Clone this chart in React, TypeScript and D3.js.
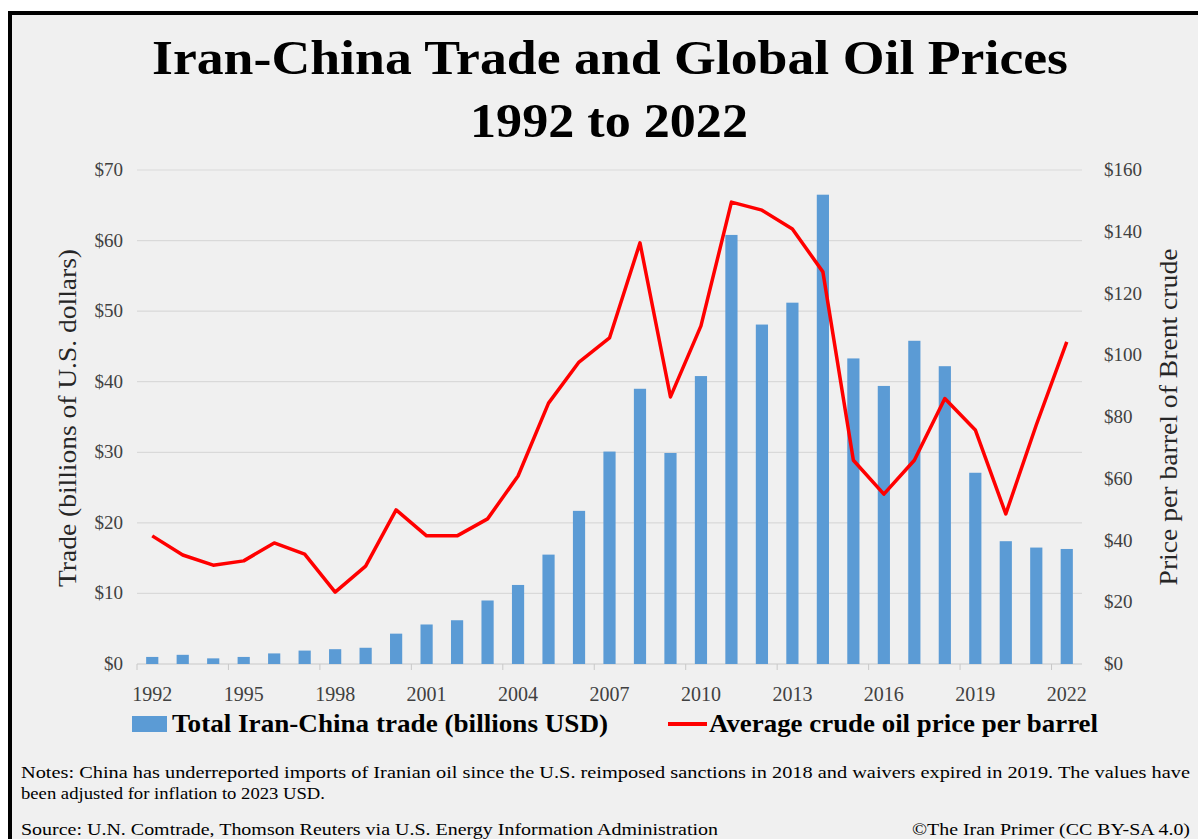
import React from "react";
import * as d3 from "d3";

// years on the category axis
const years = d3.range(1992, 2023).map(String);

// total Iran-China trade, billions USD (left axis)
const tradeValues = [
  1.0, 1.3, 0.8, 1.0, 1.5, 1.9, 2.1, 2.3, 4.3, 5.6, 6.2, 9.0, 11.2, 15.5, 21.7,
  30.1, 39.0, 29.9, 40.8, 60.8, 48.1, 51.2, 66.5, 43.3, 39.4, 45.8, 42.2, 27.1,
  17.4, 16.5, 16.3,
];

// average Brent crude price per barrel, USD (right axis)
const oilValues = [
  41.5, 35.3, 32.0, 33.4, 39.2, 35.6, 23.3, 31.7, 49.9, 41.5, 41.5, 47.0, 60.9,
  84.5, 97.8, 105.6, 136.4, 86.5, 109.5, 149.6, 147.0, 140.9, 127.0, 66.0, 55.0,
  66.0, 86.0, 75.8, 48.6, 77.4, 104.3,
];

const leftTicks = [0, 10, 20, 30, 40, 50, 60, 70];
const rightTicks = [0, 20, 40, 60, 80, 100, 120, 140, 160];
const labelYears = ["1992", "1995", "1998", "2001", "2004", "2007", "2010", "2013", "2016", "2019", "2022"];

const W = 1198;
const H = 839;
const serif = "'Liberation Serif', 'Times New Roman', serif";

export default function App() {
  const left = 137;
  const right = 1082;
  const top = 170;
  const bottom = 664;

  const x = d3.scaleBand<string>().domain(years).range([left, right]).paddingInner(0.6).paddingOuter(0.3);
  const yL = d3.scaleLinear().domain([0, 70]).range([bottom, top]);
  const yR = d3.scaleLinear().domain([0, 160]).range([bottom, top]);

  const line = d3
    .line<number>()
    .x((_, i) => (x(years[i]) ?? 0) + x.bandwidth() / 2)
    .y((d) => yR(d));

  const step = x.step();
  // category boundary ticks every 3 years
  const tickXs = d3.range(0, 31, 3).map((i) => left + i * step);

  return (
    <svg
      width={W}
      height={H}
      style={{ position: "absolute", left: 0, top: 0, display: "block" }}
      fontFamily={serif}
    >
      <rect x={0} y={0} width={W} height={H} fill="#ffffff" />
      <rect x={10} y={13} width={W} height={H} fill="#f0f0f0" />
      <line x1={10} y1={13} x2={W} y2={13} stroke="#000" strokeWidth={4} />
      <line x1={10} y1={11} x2={10} y2={H} stroke="#000" strokeWidth={4} />

      {/* title */}
      <text x={610} y={74} textAnchor="middle" fontSize={48} fontWeight="bold" textLength={916} lengthAdjust="spacingAndGlyphs">
        Iran-China Trade and Global Oil Prices
      </text>
      <text x={609} y={137} textAnchor="middle" fontSize={48} fontWeight="bold" textLength={278} lengthAdjust="spacingAndGlyphs">
        1992 to 2022
      </text>

      {/* gridlines */}
      {leftTicks.map((t) => (
        <line key={t} x1={left} x2={right} y1={yL(t)} y2={yL(t)} stroke={t === 0 ? "#c8c8c8" : "#d9d9d9"} strokeWidth={1.2} />
      ))}
      {tickXs.map((tx, i) => (
        <line key={i} x1={tx} x2={tx} y1={bottom} y2={bottom + 6} stroke="#c8c8c8" strokeWidth={1} />
      ))}

      {/* left axis labels */}
      {leftTicks.map((t) => (
        <text key={t} x={123} y={yL(t) + 6} textAnchor="end" fontSize={19} fill="#404040">
          ${t}
        </text>
      ))}
      {/* right axis labels */}
      {rightTicks.map((t) => (
        <text key={t} x={1104} y={yR(t) + 6} textAnchor="start" fontSize={19} fill="#404040">
          ${t}
        </text>
      ))}

      {/* x labels */}
      {labelYears.map((yr) => (
        <text key={yr} x={(x(yr) ?? 0) + x.bandwidth() / 2} y={701} textAnchor="middle" fontSize={20} fill="#404040">
          {yr}
        </text>
      ))}

      {/* axis titles */}
      <text
        transform={`translate(${76},${418}) rotate(-90)`}
        textAnchor="middle"
        fontSize={26}
        fill="#262626"
        textLength={338}
        lengthAdjust="spacingAndGlyphs"
      >
        Trade (billions of U.S. dollars)
      </text>
      <text
        transform={`translate(${1177},${417}) rotate(-90)`}
        textAnchor="middle"
        fontSize={26}
        fill="#262626"
        textLength={337}
        lengthAdjust="spacingAndGlyphs"
      >
        Price per barrel of Brent crude
      </text>

      {/* bars */}
      {tradeValues.map((v, i) => (
        <rect
          key={years[i]}
          x={x(years[i])}
          y={yL(v)}
          width={x.bandwidth()}
          height={bottom - yL(v)}
          fill="#5b9bd5"
        />
      ))}

      {/* oil line */}
      <path d={line(oilValues) ?? ""} fill="none" stroke="#ff0000" strokeWidth={3.5} strokeLinejoin="round" />

      {/* legend */}
      <rect x={132} y={716} width={35} height={16} fill="#5b9bd5" />
      <text x={172} y={732} fontSize={25} fontWeight="bold" textLength={436} lengthAdjust="spacingAndGlyphs">
        Total Iran-China trade (billions USD)
      </text>
      <line x1={668} x2={707} y1={724} y2={724} stroke="#ff0000" strokeWidth={4} />
      <text x={709} y={732} fontSize={25} fontWeight="bold" textLength={389} lengthAdjust="spacingAndGlyphs">
        Average crude oil price per barrel
      </text>

      {/* notes */}
      <text x={21} y={778} fontSize={17} textLength={1169} lengthAdjust="spacingAndGlyphs">
        Notes: China has underreported imports of Iranian oil since the U.S. reimposed sanctions in 2018 and waivers expired in 2019. The values have
      </text>
      <text x={21} y={799} fontSize={17} textLength={304} lengthAdjust="spacingAndGlyphs">
        been adjusted for inflation to 2023 USD.
      </text>
      <text x={21} y={835} fontSize={17} textLength={697} lengthAdjust="spacingAndGlyphs">
        Source: U.N. Comtrade, Thomson Reuters via U.S. Energy Information Administration
      </text>
      <text x={1190} y={835} fontSize={17} textAnchor="end" textLength={278} lengthAdjust="spacingAndGlyphs">
        ©The Iran Primer (CC BY-SA 4.0)
      </text>
    </svg>
  );
}
